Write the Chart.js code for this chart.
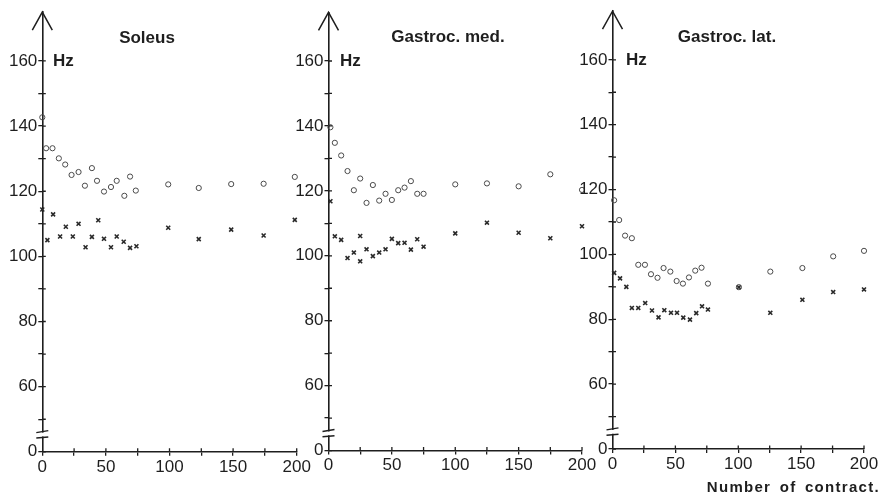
<!DOCTYPE html>
<html>
<head>
<meta charset="utf-8">
<script src="https://cdn.jsdelivr.net/npm/chart.js@4.4.1/dist/chart.umd.min.js"></script>
<style>
  html, body { margin: 0; padding: 0; background: #fff; }
  #page { position: relative; width: 881px; height: 494px; overflow: hidden;
          font-family: "Liberation Sans", Arial, sans-serif; color: #1e1e1e; }
  canvas { position: absolute; top: 0; }
  .lbl { position: absolute; font-weight: bold; font-size: 17px; white-space: nowrap;
         transform: translate(-50%, -50%); }
  .hz { position: absolute; font-weight: bold; font-size: 17px; transform: translateY(-50%); }
  #xname { position: absolute; right: 1px; top: 478px; font-weight: bold; font-size: 15px;
           letter-spacing: 1.3px; word-spacing: 3px; }
</style>
</head>
<body>
<div id="page">
  <canvas id="sol" width="320" height="494" style="left:0px"></canvas>
  <canvas id="med" width="310" height="494" style="left:290px"></canvas>
  <canvas id="lat" width="306" height="494" style="left:575px"></canvas>
  <div class="lbl" style="left:147px; top:38px">Soleus</div>
  <div class="lbl" style="left:448px; top:37px">Gastroc. med.</div>
  <div class="lbl" style="left:727px; top:37px">Gastroc. lat.</div>
  <div class="hz" style="left:53px; top:61px">Hz</div>
  <div class="hz" style="left:340px; top:61px">Hz</div>
  <div class="hz" style="left:626px; top:60px">Hz</div>
  <div id="xname">Number of contract.</div>
</div>
<script>
// axis ticks (the y axis is broken: the lowest tick stands for 0)
const xTicks = [0, 25, 50, 75, 100, 125, 150, 175, 200];
const xTickText = ['0', '', '50', '', '100', '', '150', '', '200'];
const yTicks = [40, 50, 60, 70, 80, 90, 100, 110, 120, 130, 140, 150, 160];
const yTickText = ['0', '', '60', '', '80', '', '100', '', '120', '', '140', '', '160'];

// Soleus
const solCircleX = [0, 3, 8, 13, 18, 23, 28.5, 33.5, 39, 43, 48.5, 54, 58.5, 64.5, 69, 73.5, 99, 123, 148.5, 174, 198.5];
const solCircleY = [142.7, 133.2, 133.2, 130.1, 128.2, 125.0, 125.9, 121.7, 127.1, 123.2, 119.9, 121.3, 123.2, 118.6, 124.5, 120.2, 122.1, 121.0, 122.2, 122.3, 124.4];
const solCrossX = [0, 4, 8.5, 14, 18.5, 24, 28.5, 34, 39, 44, 48.5, 54, 58.5, 64, 69, 74, 99, 123, 148.5, 174, 198.5];
const solCrossY = [114.4, 105.0, 112.9, 106.1, 109.1, 106.1, 110.0, 102.8, 106.0, 111.1, 105.4, 102.8, 106.1, 104.5, 102.6, 103.1, 108.8, 105.3, 108.2, 106.4, 111.2];

// Gastroc. med.
const medCircleX = [1.5, 5, 10, 15, 20, 25, 30, 35, 40, 45, 50, 55, 60, 65, 70, 75, 100, 125, 150, 175, 200];
const medCircleY = [139.6, 134.8, 130.9, 126.1, 120.2, 123.8, 116.3, 121.8, 117.0, 119.1, 117.2, 120.2, 121.0, 123.0, 119.1, 119.1, 122.0, 122.3, 121.4, 125.1, 120.3];
const medCrossX = [1.5, 5, 10, 15, 20, 25, 25, 30, 35, 40, 45, 50, 55, 60, 65, 70, 75, 100, 125, 150, 175, 200];
const medCrossY = [116.8, 106.0, 104.9, 99.3, 101.0, 106.1, 98.3, 102.0, 99.9, 101.0, 102.0, 105.2, 103.9, 104.0, 101.9, 105.1, 102.8, 106.9, 110.2, 107.1, 105.4, 109.1];

// Gastroc. lat.
const latCircleX = [1.3, 5.3, 10, 15.4, 20.5, 25.8, 30.6, 35.8, 40.6, 46, 51, 56, 60.8, 65.8, 70.8, 75.9, 100.5, 125.5, 151, 175.5, 200];
const latCircleY = [116.7, 110.6, 105.8, 105.0, 96.8, 96.8, 93.9, 92.8, 95.8, 94.7, 91.8, 91.0, 92.9, 95.0, 95.9, 91.0, 89.9, 94.7, 95.8, 99.4, 101.1];
const latCrossX = [1.3, 6, 11, 15.4, 20.5, 26, 31.4, 36.6, 41.2, 46.5, 51.3, 56.3, 61.6, 66.6, 71.2, 75.9, 100.5, 125.5, 151, 175.5, 200];
const latCrossY = [94.3, 92.6, 90.0, 83.5, 83.5, 85.0, 82.7, 80.6, 82.8, 82.0, 82.0, 80.5, 79.9, 81.9, 84.0, 83.0, 89.9, 82.0, 86.0, 88.4, 89.2];

const ink = '#1e1e1e';
const family = '"Liberation Sans", Arial, sans-serif';

const toPts = (xs, ys) => xs.map((x, i) => ({x: x, y: ys[i]}));

// ticks across the axes, arrow head and the break mark
const axisDeco = {
  id: 'axisDeco',
  afterDraw(chart) {
    const ctx = chart.ctx;
    const xs = chart.scales.x, ys = chart.scales.y;
    const area = chart.chartArea;
    const x0 = area.left, yb = area.bottom, yt = area.top;
    ctx.save();
    ctx.strokeStyle = ink;
    ctx.lineWidth = 1.3;
    ctx.beginPath();
    ys.ticks.forEach(t => {
      const py = ys.getPixelForValue(t.value);
      ctx.moveTo(x0, py); ctx.lineTo(x0 + 3.5, py);
    });
    xs.ticks.forEach(t => {
      if (t.value === 0) return;
      const px = xs.getPixelForValue(t.value);
      ctx.moveTo(px, yb); ctx.lineTo(px, yb - 3.5);
    });
    ctx.stroke();
    // arrow
    ctx.lineWidth = 1.5;
    ctx.beginPath();
    ctx.moveTo(x0 - 10, yt + 18); ctx.lineTo(x0, yt); ctx.lineTo(x0 + 10, yt + 18);
    ctx.stroke();
    // break
    const pHi = ys.getPixelForValue(46.2), pLo = ys.getPixelForValue(44.4);
    ctx.fillStyle = '#fff';
    ctx.fillRect(x0 - 2, pHi + 1, 4, pLo - pHi - 2);
    ctx.lineWidth = 1.4;
    ctx.beginPath();
    ctx.moveTo(x0 - 6, pHi + 1); ctx.lineTo(x0 + 6, pHi - 1);
    ctx.moveTo(x0 - 6, pLo + 0.5); ctx.lineTo(x0 + 6, pLo - 0.5);
    ctx.stroke();
    ctx.restore();
  }
};

function makePanel(id, circleX, circleY, crossX, crossY, box) {
  return new Chart(document.getElementById(id), {
    type: 'scatter',
    data: {
      datasets: [{
        data: toPts(circleX, circleY),
        pointStyle: 'circle',
        pointRadius: 2.6,
        pointBorderWidth: 1,
        borderColor: '#4a4a4a',
        backgroundColor: 'rgba(0,0,0,0)',
        clip: false
      }, {
        data: toPts(crossX, crossY),
        pointStyle: 'crossRot',
        pointRadius: 2.8,
        pointBorderWidth: 1.6,
        borderColor: '#2a2a2a',
        backgroundColor: '#2a2a2a',
        clip: false
      }]
    },
    options: {
      responsive: false,
      animation: false,
      events: [],
      layout: { padding: { left: 0, right: box.padRight, top: box.padTop, bottom: 0 } },
      plugins: { legend: { display: false }, tooltip: { enabled: false } },
      scales: {
        x: {
          type: 'linear', min: 0, max: 200,
          afterBuildTicks: s => { s.ticks = xTicks.map(v => ({value: v})); },
          afterFit: s => { s.height = box.xAxisH; },
          ticks: {
            autoSkip: false, maxRotation: 0, padding: 1, color: ink,
            font: { family: family, size: 17 },
            callback: (v, i) => xTickText[i]
          },
          grid: { drawOnChartArea: false, tickLength: 4, color: ink, lineWidth: 1.3 },
          border: { color: ink, width: 1.6 }
        },
        y: {
          type: 'linear', min: 40, max: 175,
          afterBuildTicks: s => { s.ticks = yTicks.map(v => ({value: v})); },
          afterFit: s => { s.width = box.yAxisW; },
          ticks: {
            autoSkip: false, padding: 1, color: ink,
            font: { family: family, size: 17 },
            callback: (v, i) => yTickText[i]
          },
          grid: { drawOnChartArea: false, tickLength: 4, color: ink, lineWidth: 1.3 },
          border: { color: ink, width: 1.6 }
        }
      }
    },
    plugins: [axisDeco]
  });
}

makePanel('sol', solCircleX, solCircleY, solCrossX, solCrossY,
  { yAxisW: 42.3, padRight: 23.3, padTop: 12.1, xAxisH: 42.2 });
makePanel('med', medCircleX, medCircleY, medCrossX, medCrossY,
  { yAxisW: 38.5, padRight: 18, padTop: 12.3, xAxisH: 43.4 });
makePanel('lat', latCircleX, latCircleY, latCrossX, latCrossY,
  { yAxisW: 37.5, padRight: 17, padTop: 11, xAxisH: 45 });
</script>
</body>
</html>
